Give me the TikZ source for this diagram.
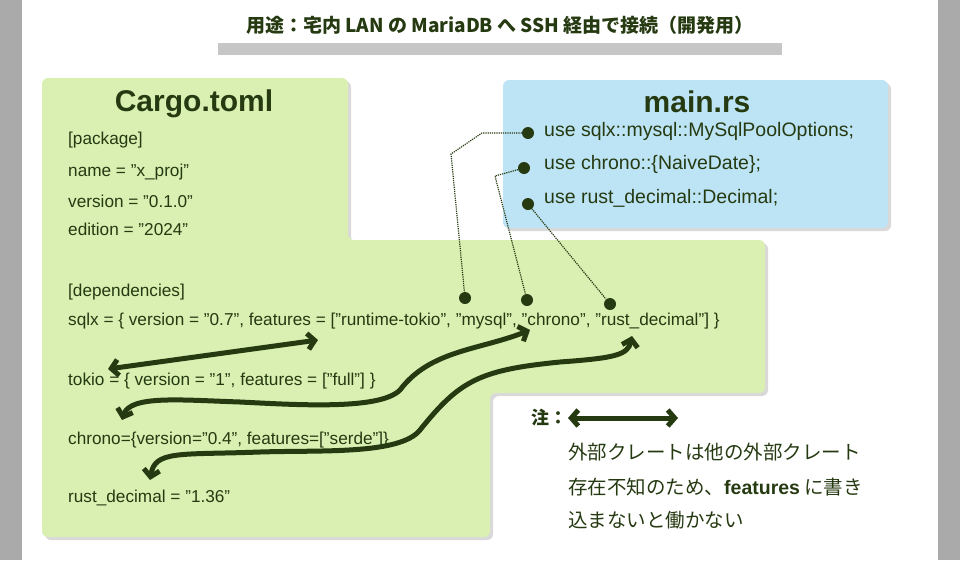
\documentclass[tikz,border=0pt]{standalone}
\usepackage{fontspec}
\setmainfont{Liberation Sans}
\newfontfamily\cjk{Noto Sans CJK JP}
\usetikzlibrary{arrows.meta}
\newcommand\qq{\char34\relax}
\definecolor{dk}{HTML}{263A12}
\definecolor{grn}{HTML}{D9F0B2}
\definecolor{blu}{HTML}{BDE4F5}
\definecolor{side}{HTML}{AAAAAA}
\begin{document}
\begin{tikzpicture}[x=1pt,y=-1pt,
  code/.style={anchor=west,text=dk,font=\fontsize{17.2}{18}\selectfont,inner sep=0},
  use/.style={anchor=west,text=dk,font=\fontsize{19.5}{21}\selectfont,inner sep=0},
  dot/.style={circle,fill=dk,minimum size=12,inner sep=0},
  dline/.style={dk,densely dotted,line width=1.2},
  fat/.style={dk,line width=5,{Straight Barb[length=7pt,width=16pt]}-{Straight Barb[length=7pt,width=16pt]}},
  jp/.style={anchor=west,text=dk,font=\cjk\fontsize{19.5}{21}\selectfont,inner sep=0}]
\useasboundingbox (0,0) rectangle (960,560);
\fill[side] (0,0) rectangle (22,560);
\fill[side] (938,0) rectangle (960,560);
\node[text=dk,font=\cjk\bfseries\fontsize{19}{21}\selectfont] (title) at (500,25) {用途：宅内 LAN の MariaDB へ SSH 経由で接続（開発用）};
\fill[gray!45] (218,43) rectangle (782,55);
\fill[gray!30,rounded corners=6] (45,81)--(351,81)--(351,243)--(768,243)--(768,396)--(493,396)--(493,540)--(45,540)--cycle;
\fill[grn,rounded corners=6] (42,78)--(348,78)--(348,240)--(765,240)--(765,393)--(490,393)--(490,537)--(42,537)--cycle;
\fill[gray!30,rounded corners=6] (506,83) rectangle (891,231);
\fill[blu,rounded corners=6] (503,80) rectangle (888,228);
\node[text=dk,font=\bfseries\fontsize{30}{32}\selectfont] (cargo) at (194,104) {Cargo.toml};
\node[text=dk,font=\bfseries\fontsize{30}{32}\selectfont] (mainrs) at (697,102) {main.rs};
\node[code] (pk) at (68,140) {[package]};
\node[code] (nm) at (68,172) {name = \qq x\_proj\qq};
\node[code] (vr) at (68,201) {version = \qq 0.1.0\qq};
\node[code] (ed) at (68,229) {edition = \qq 2024\qq};
\node[code] (dp) at (68,292) {[dependencies]};
\node[code] (sq) at (68,321) {sqlx = \{ version = \qq 0.7\qq, features = [\qq runtime-tokio\qq, \qq mysql\qq, \qq chrono\qq, \qq rust\_decimal\qq] \}};
\node[code] (tk) at (68,381) {tokio = \{ version = \qq 1\qq, features = [\qq full\qq] \}};
\node[code] (ch) at (68,440) {chrono=\{version=\qq 0.4\qq, features=[\qq serde\qq]\}};
\node[code] (rd) at (68,498) {rust\_decimal = \qq 1.36\qq};
\node[use] (u1) at (544,131) {use sqlx::mysql::MySqlPoolOptions;};
\node[use] (u2) at (544,164) {use chrono::\{NaiveDate\};};
\node[use] (u3) at (544,198) {use rust\_decimal::Decimal;};
\node[dot] (a1) at (528,133) {};
\node[dot] (a2) at (524,168) {};
\node[dot] (a3) at (528,204) {};
\node[dot] (b1) at (465,298) {};
\node[dot] (b2) at (527,300) {};
\node[dot] (b3) at (610,304) {};
\draw[dline] (a1) -- (482,133) -- (451,154) -- (b1);
\draw[dline] (a2) -- (495,176) -- (b2);
\draw[dline] (a3) -- (b3);
\coordinate (t1) at (318,340); \coordinate (t2) at (108,369);
\draw[fat] (t2) -- (t1);
\coordinate (c1) at (530,330); \coordinate (c2) at (122,420);
\draw[fat] (c2) .. controls (130,395) and (180,400) .. (240,402) .. controls (300,405) and (380,410) .. (400,390) .. controls (430,350) and (480,350) .. (c1);
\coordinate (r1) at (632,336); \coordinate (r2) at (150,480);
\draw[fat] (r2) .. controls (155,450) and (180,455) .. (260,452) .. controls (320,450) and (400,455) .. (420,430) .. controls (460,380) and (480,370) .. (560,362) .. controls (615,358) and (628,355) .. (r1);
\node[text=dk,font=\cjk\bfseries\fontsize{18}{20}\selectfont] (chu) at (549,418) {注：};
\coordinate (n1) at (568,418); \coordinate (n2) at (678,418);
\draw[fat] (n1) -- (n2);
\node[jp] (j1) at (568,452) {外部クレートは他の外部クレート};
\node[jp] (j2) at (568,487) {存在不知のため、{\fontspec{Liberation Sans}\bfseries features} に書き};
\node[jp] (j3) at (568,520) {込まないと働かない};
\end{tikzpicture}
\end{document}
